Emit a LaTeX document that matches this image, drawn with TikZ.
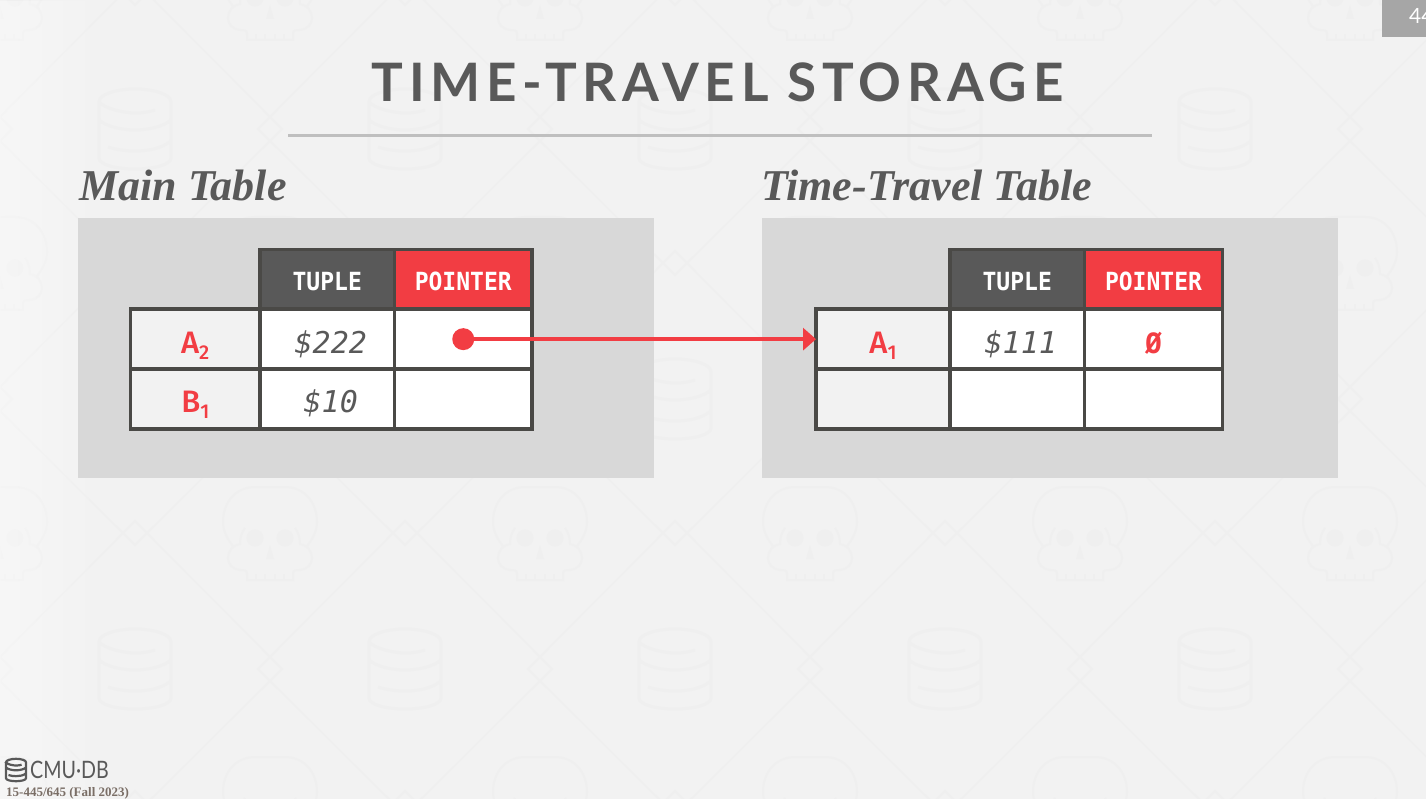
\documentclass[tikz,border=0pt]{standalone}
\usepackage{fontspec}
\usepackage{tikz}
\usetikzlibrary{positioning, arrows.meta, fadings}
\setmonofont{DejaVu Sans Mono}
\newfontfamily\titlefont[LetterSpace=11]{Lato}
\newfontfamily\pagefont{Lato}
\newfontfamily\labelfont{Liberation Serif}
\newfontfamily\headfont[FakeStretch=0.92]{DejaVu Sans Mono}
\newfontfamily\keyfont{Fira Sans Medium}
\newfontfamily\logofont[FakeStretch=0.82]{Lato}
\definecolor{slidebg}{HTML}{F2F2F2}
\definecolor{wmark}{HTML}{EFEFEF}
\definecolor{panelgray}{HTML}{D8D8D8}
\definecolor{gridline}{HTML}{4A4946}
\definecolor{headgray}{HTML}{595959}
\definecolor{cmured}{HTML}{F23D43}
\definecolor{coursegray}{HTML}{7A6E66}
\newcommand{\keysub}[1]{\raisebox{-6pt}{\fontsize{20pt}{20pt}\selectfont #1}}
\tikzstyle{panel} = [rectangle, fill=panelgray, minimum width=576pt, minimum height=260pt, inner sep=0pt, outer sep=0pt]
\tikzstyle{tablelabel} = [anchor=base west, inner sep=0pt, text=headgray, font=\labelfont\bfseries\itshape\fontsize{44pt}{44pt}\selectfont]
\tikzstyle{cell} = [rectangle, draw=gridline, line width=3.7pt, minimum height=59.7pt, inner sep=0pt, outer sep=0pt, text height=28pt, text depth=0pt]
\tikzstyle{keycell} = [cell, fill=slidebg, minimum width=129.5pt, text=cmured, font=\keyfont\fontsize{31pt}{31pt}\selectfont]
\tikzstyle{valcell} = [cell, fill=white, minimum width=134.5pt, text=headgray, execute at begin node=\hspace{7pt}, font=\ttfamily\itshape\fontsize{30pt}{30pt}\selectfont]
\tikzstyle{ptrcell} = [cell, fill=white, minimum width=137.5pt, text=cmured, font=\ttfamily\bfseries\fontsize{28pt}{28pt}\selectfont]
\tikzstyle{headcell} = [cell, text=white, text height=23pt, font=\headfont\bfseries\fontsize{25pt}{25pt}\selectfont]
\tikzstyle{arrow} = [cmured, line width=4.5pt, -{Triangle[length=13pt,width=22pt]}]
\tikzset{
  skull/.pic={
    \draw (-37,13) .. controls (-43,6) and (-47,-3) .. (-47,-11) .. controls (-47,-32) and (-33,-46) .. (-15,-46) -- (15,-46) .. controls (33,-46) and (47,-32) .. (47,-11) .. controls (47,-3) and (43,6) .. (37,13);
    \draw (-25,-5) .. controls (-28,-1) and (-30,4) .. (-30,11) .. controls (-37,12) and (-42,18) .. (-42,25) .. controls (-42,31) and (-38,36) .. (-30,37) .. controls (-26,37) and (-23,37) .. (-23,41) -- (-23,47) -- (23,47) -- (23,41) .. controls (23,37) and (26,37) .. (30,37) .. controls (38,36) and (42,31) .. (42,25) .. controls (42,18) and (37,12) .. (30,11) .. controls (30,4) and (28,-1) .. (25,-5);
    \foreach \t in {-14,-5,5,14} \draw (\t,47) -- (\t,41);
    \fill (-15,5) circle (8.5) (15,5) circle (8.5) (0,12) -- (4,26) -- (-4,26) -- cycle;
  },
  dbcan/.pic={
    \draw (-36,-27) -- (-36,29) .. controls (-36,36) and (-18,40) .. (0,40) .. controls (18,40) and (36,36) .. (36,29) -- (36,-27) .. controls (36,-35) and (18,-40) .. (0,-40) .. controls (-18,-40) and (-36,-35) .. cycle;
    \draw (-36,-27) .. controls (-30,-20) and (-10,-16) .. (0,-16) .. controls (8,-16) and (14,-17) .. (20,-19);
    \draw (-36,-9) .. controls (-28,-2) and (-12,1) .. (0,1) .. controls (12,1) and (28,-2) .. (36,-9);
    \draw (-27,18) .. controls (-18,21) and (-8,22) .. (0,22) .. controls (12,22) and (26,20) .. (36,12);
  },
  wmtile/.pic={
    \pic [line width=2pt] at (0,0) {skull};
    \pic [line width=3pt] at (135,136) {dbcan};
    \draw [line width=1.5pt] (135,-12) -- (147,0) -- (135,12) -- (123,0) -- cycle;
    \draw [line width=1.5pt] (270,124) -- (282,136) -- (270,148) -- (258,136) -- cycle;
    \draw [line width=1.5pt] (147,0) -- (270,124) (123,0) -- (0,124) (270,148) -- (147,270) (0,148) -- (123,270);
  }
}
\begin{document}
\begin{tikzpicture}[x=1pt, y=-1pt]
\useasboundingbox (0,0) rectangle (1426,799);
\clip (0,0) rectangle (1426,799);
\fill [slidebg] (0,0) rectangle (1426,799);
\foreach \i in {-1,...,5} \foreach \j in {-1,...,3} \pic [color=wmark] at ({270*\i},{270*\j-7}) {wmtile};
\fill [white, fill opacity=0.5, path fading=east] (-35,0) rectangle (105,799);
\node (pagebox) [rectangle, fill=black!35, minimum width=44pt, minimum height=37pt, inner sep=0pt, anchor=north west] at (1382,0) {};
\node (pagenum) [anchor=base west, inner sep=0pt, text=white, font=\pagefont\fontsize{21pt}{21pt}\selectfont] at (1409,23.5) {44};
\node (title) [anchor=base, inner sep=0pt, text=headgray, font=\titlefont\bfseries\fontsize{53pt}{53pt}\selectfont] at (717.5,102) {TIME-TRAVEL STORAGE};
\coordinate (ruleleft) at (288,136);
\coordinate (ruleright) at (1152,136);
\draw [black!25, line width=3pt] (ruleleft) -- (ruleright);
\node (mainbox) [panel] at (366,348) {};
\node (travelbox) [panel] at (1050,348) {};
\node (mainlabel) [tablelabel] at (79,201) {Main Table};
\node (travellabel) [tablelabel] at (761,201) {Time-Travel Table};
\node (mainA) [keycell, anchor=north west] at (130.5,309.3) {A\keysub{2}};
\node (mainAval) [valcell, right=0pt of mainA] {\$222};
\node (mainAptr) [ptrcell, right=0pt of mainAval] {};
\node (mainB) [keycell, below=0pt of mainA] {B\keysub{1}};
\node (mainBval) [valcell, right=0pt of mainB] {\$10};
\node (mainBptr) [ptrcell, right=0pt of mainBval] {};
\node (mainhead1) [headcell, fill=headgray, minimum width=134.5pt, above=0pt of mainAval] {TUPLE};
\node (mainhead2) [headcell, fill=cmured, minimum width=137.5pt, above=0pt of mainAptr] {POINTER};
\node (travelA) [keycell, minimum width=134pt, anchor=north west] at (816,309.3) {A\keysub{1}};
\node (travelAval) [valcell, right=0pt of travelA] {\$111};
\node (travelAptr) [ptrcell, minimum width=138pt, right=0pt of travelAval] {Ø};
\node (travelB) [keycell, minimum width=134pt, below=0pt of travelA] {};
\node (travelBval) [valcell, right=0pt of travelB] {};
\node (travelBptr) [ptrcell, minimum width=138pt, right=0pt of travelBval] {};
\node (travelhead1) [headcell, fill=headgray, minimum width=134.5pt, above=0pt of travelAval] {TUPLE};
\node (travelhead2) [headcell, fill=cmured, minimum width=138pt, above=0pt of travelAptr] {POINTER};
\node (ptrdot) [circle, fill=cmured, minimum size=22pt, inner sep=0pt, outer sep=0pt] at (mainAptr.center) {};
\draw [arrow] (ptrdot) -- (travelA);
\pic [color=headgray, line width=2.2pt, scale=0.28] at (16,770) {dbcan};
\node (logotext) [anchor=base west, inner sep=0pt, text=headgray, font=\logofont\fontsize{24pt}{24pt}\selectfont] at (30,778) {CMU·DB};
\node (course) [anchor=base west, inner sep=0pt, text=coursegray, font=\labelfont\bfseries\fontsize{13pt}{13pt}\selectfont] at (6,796) {15-445/645 (Fall 2023)};
\end{tikzpicture}
\end{document}
